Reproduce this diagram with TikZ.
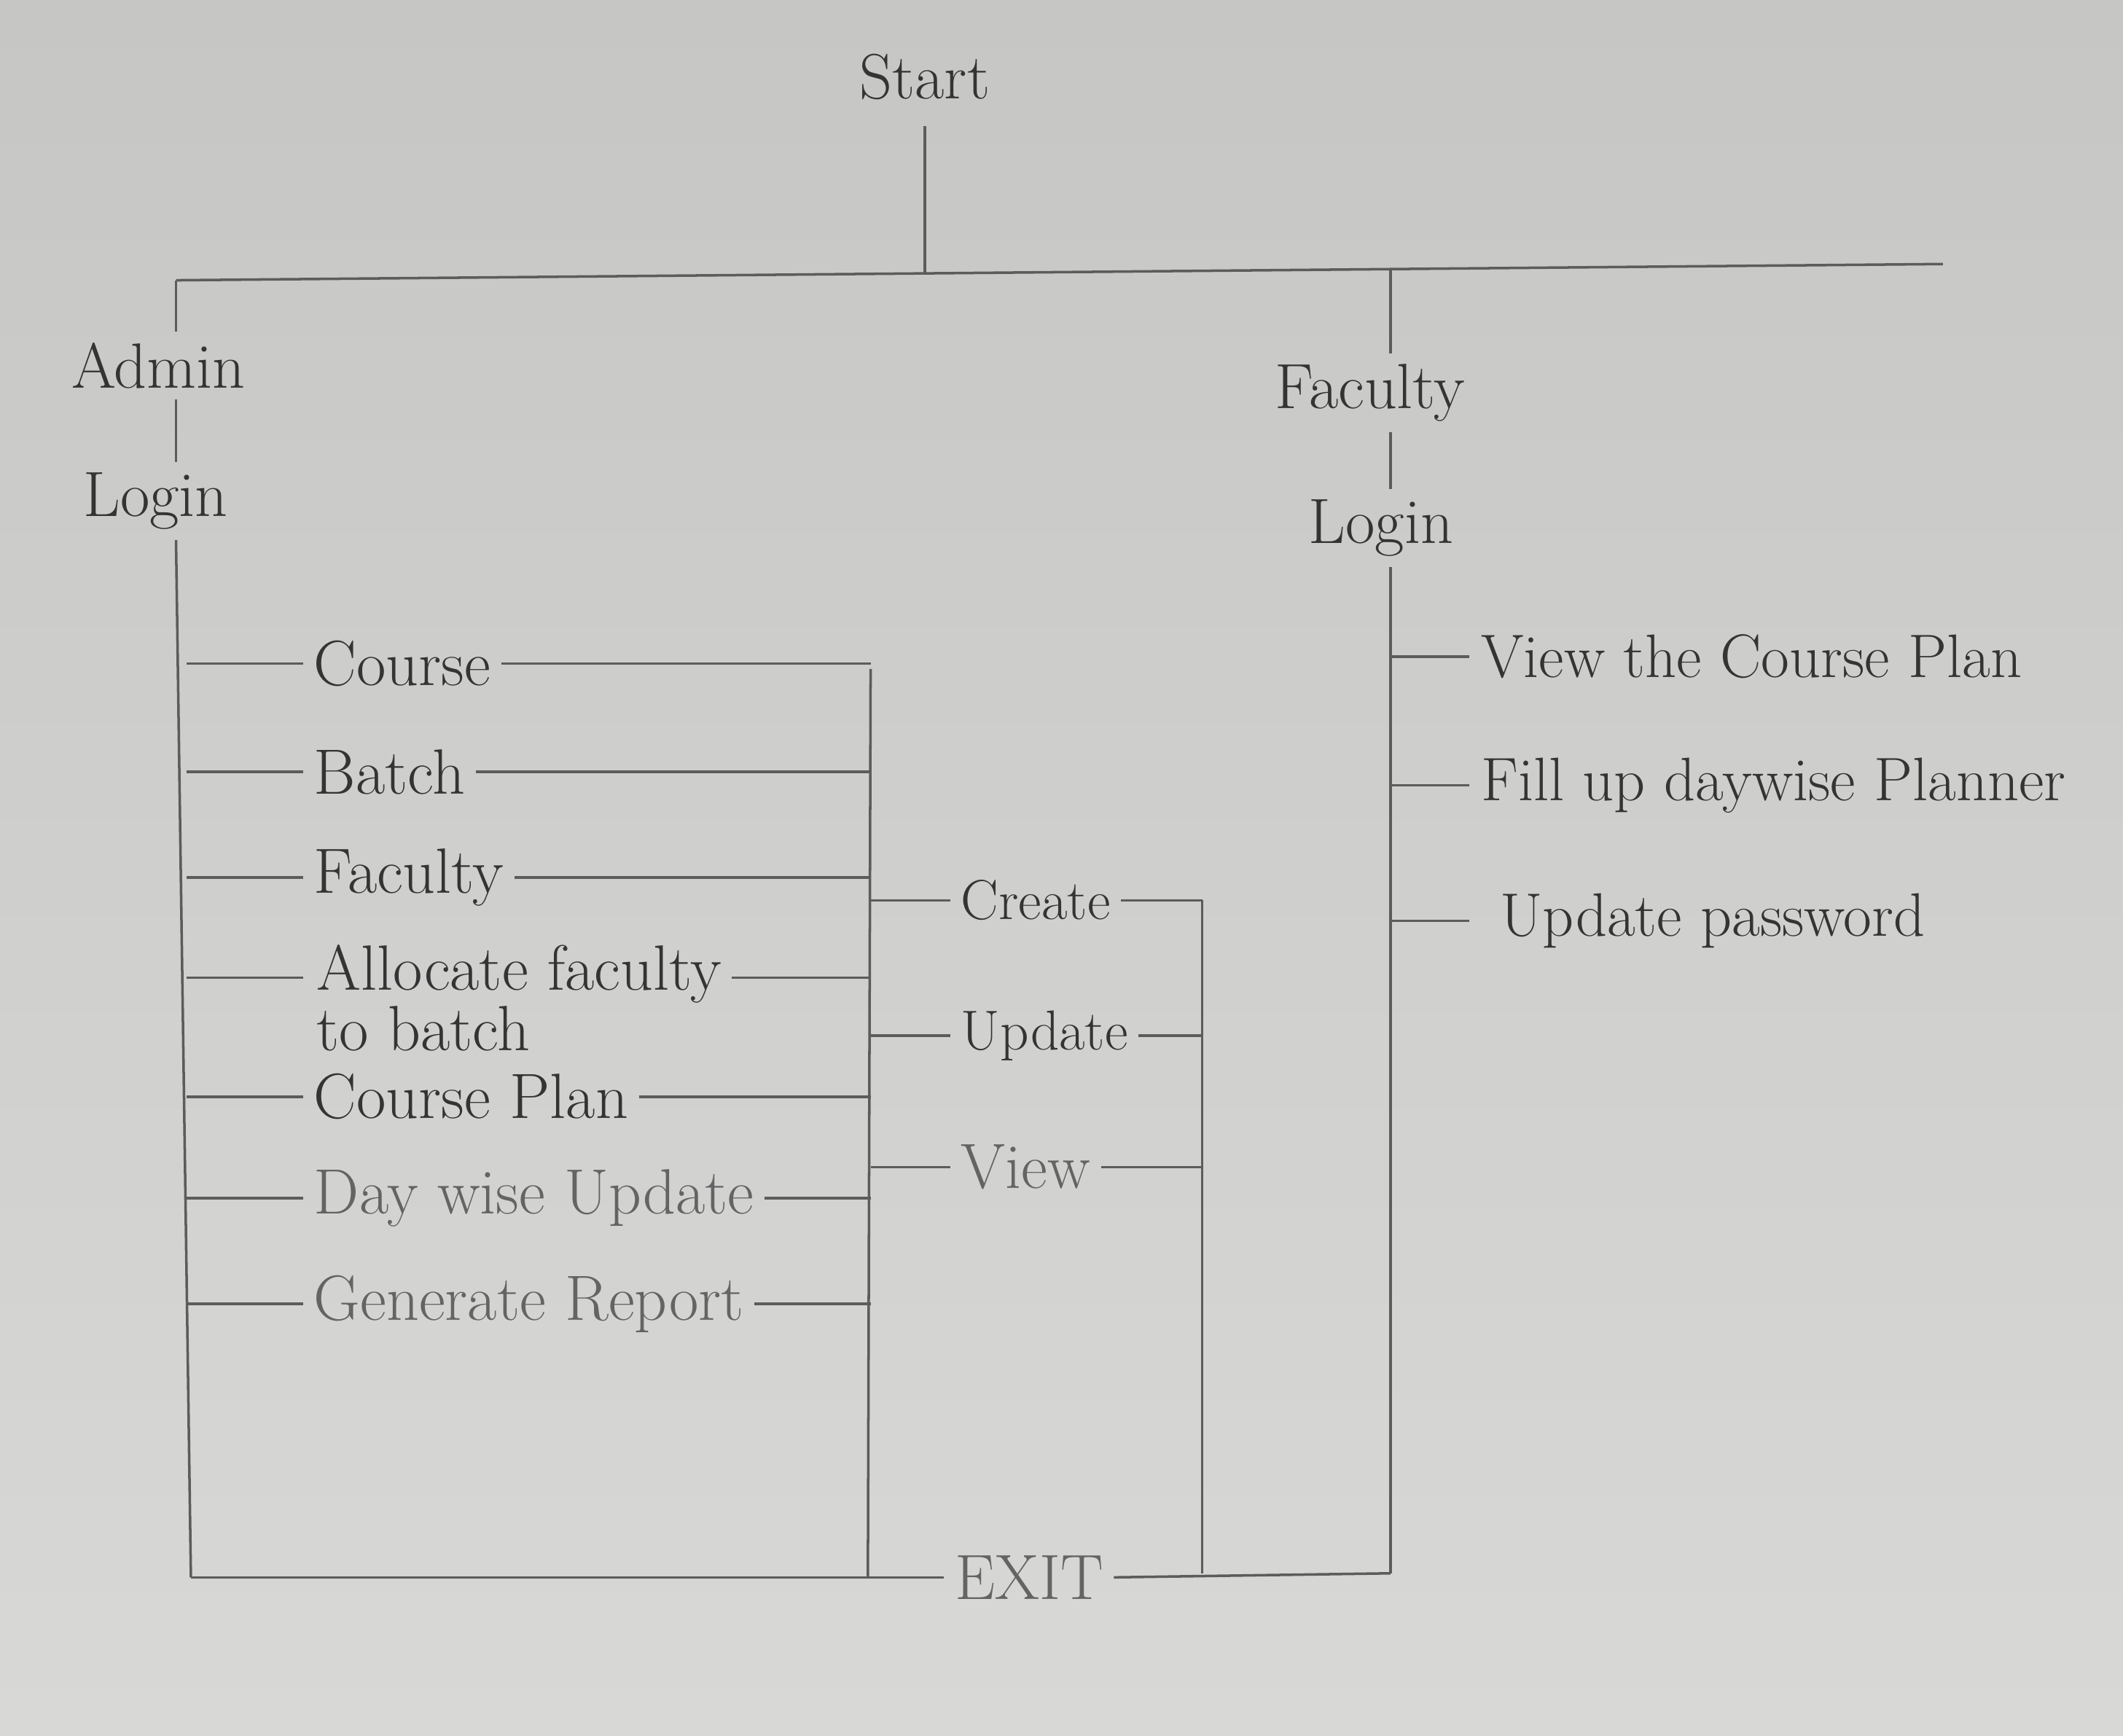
\documentclass[tikz,border=0pt]{standalone}
\usepackage{fontspec}

\definecolor{paper}{RGB}{198,198,197}
\definecolor{paperlow}{RGB}{216,216,214}
\definecolor{pencil}{RGB}{92,92,92}
\definecolor{ink}{RGB}{52,52,52}
\definecolor{inklight}{RGB}{100,100,100}

\tikzset{
  pen/.style={draw=pencil, line width=1pt},
  lbl/.style={text=ink, inner sep=4pt, font=\fontsize{25}{27}\selectfont},
  faint/.style={lbl, text=inklight},
  side/.style={lbl, font=\fontsize{24}{26}\selectfont},
  oper/.style={lbl, font=\fontsize{22}{24}\selectfont},
}

\begin{document}
\begin{tikzpicture}[x=0.01858cm, y=-0.01858cm]
\shade[top color=paper, bottom color=paperlow] (0,0) rectangle (1568,1282);
\useasboundingbox (0,0) rectangle (1568,1282);

% top line
\node[lbl] (start) at (683,57) {Start};
\coordinate (tl) at (130,207);
\coordinate (tm) at (683,202);
\coordinate (tf) at (1027,199);
\coordinate (tr) at (1435,195);
\draw[pen, shorten <=6pt] (start) -- (tm);
\draw[pen] (tl) -- (tr);

% admin side
\node[lbl] (admin) at (117,270) {Admin};
\node[lbl] (alogin) at (115,370) {Login};
\coordinate (abot) at (141,1165);
\draw[pen] (tl) -- (tl |- admin.north);
\draw[pen] (tl |- admin.south) -- (tl |- alogin.north);
\draw[pen] (tl |- alogin.south) -- (abot);

\coordinate (mtop) at (643,494);
\coordinate (mbot) at (641,1165);
\draw[pen] (mtop) -- (mbot);

\foreach \y/\name/\txt/\sty in {490/course/Course/lbl, 570/batch/Batch/lbl,
    648/afac/Faculty/lbl, 810/cplan/Course Plan/lbl,
    885/dwise/Day wise Update/faint, 963/genrep/Generate Report/faint}{
  \node[\sty, anchor=west] (\name) at (224,\y) {\txt};
  \draw[pen] (138,\y) -- (\name.west);
  \draw[pen] (\name.east) -- (643,\y);
}
\node[lbl, anchor=north west, align=left, font=\fontsize{25}{17}\selectfont]
  (alloc) at (226,690) {Allocate faculty\\to batch};
\draw[pen] (138,722) -- (224,722);
\draw[pen] (alloc.east |- 643,722) -- (643,722);

% create / update / view
\coordinate (rtop) at (888,665);
\coordinate (rbot) at (888,1162);
\draw[pen] (rtop) -- (rbot);
\foreach \y/\name/\txt/\sty in {665/create/Create/oper, 765/update/Update/oper,
    862/view/View/faint}{
  \node[oper, \sty, anchor=west] (\name) at (702,\y) {\txt};
  \draw[pen] (643,\y) -- (\name.west);
  \draw[pen] (\name.east) -- (888,\y);
}

% faculty side
\node[lbl] (fac) at (1012,290) {Faculty};
\node[lbl] (flogin) at (1020,390) {Login};
\coordinate (fbot) at (1027,1162);
\draw[pen] (tf) -- (tf |- fac.north);
\draw[pen] (tf |- fac.south) -- (tf |- flogin.north);
\draw[pen] (tf |- flogin.south) -- (fbot);

\foreach \y/\name/\txt/\x in {485/vplan/View the Course Plan/1086,
    580/fill/Fill up daywise Planner/1086, 680/pwd/Update password/1100}{
  \node[side, anchor=west] (\name) at (\x,\y) {\txt};
  \draw[pen] (1028,\y) -- (1085,\y);
}

% exit
\node[faint] (exit) at (760,1165) {EXIT};
\draw[pen] (abot) -- (exit.west);
\draw[pen] (exit.east) -- (fbot);
\end{tikzpicture}
\end{document}
